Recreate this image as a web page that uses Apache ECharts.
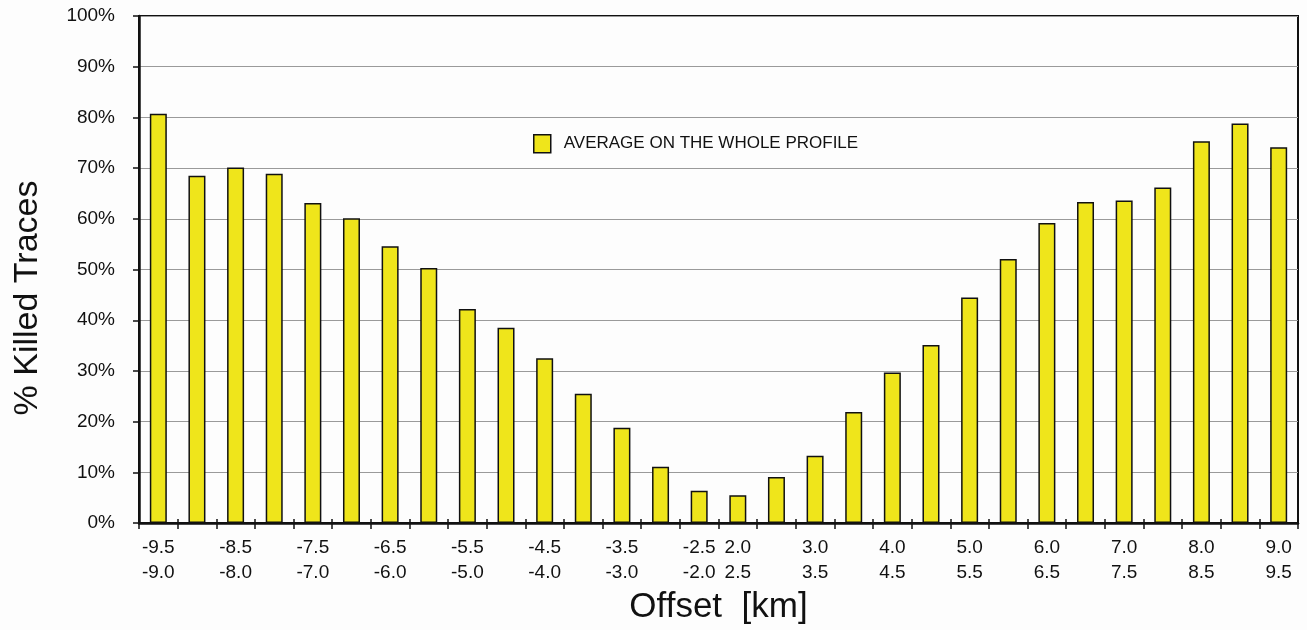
<!DOCTYPE html>
<html>
<head>
<meta charset="utf-8">
<script src="https://cdn.jsdelivr.net/npm/echarts@6/dist/echarts.min.js"></script>
<style>
html,body{margin:0;padding:0;background:#fdfdfd;}
#c{width:1307px;height:630px;}
</style>
</head>
<body>
<div id="c"></div>
<script>
const categories = [
  "-9.5\n-9.0", "-9.0\n-8.5", "-8.5\n-8.0", "-8.0\n-7.5", "-7.5\n-7.0",
  "-7.0\n-6.5", "-6.5\n-6.0", "-6.0\n-5.5", "-5.5\n-5.0", "-5.0\n-4.5",
  "-4.5\n-4.0", "-4.0\n-3.5", "-3.5\n-3.0", "-3.0\n-2.5", "-2.5\n-2.0",
  "2.0\n2.5", "2.5\n3.0", "3.0\n3.5", "3.5\n4.0", "4.0\n4.5",
  "4.5\n5.0", "5.0\n5.5", "5.5\n6.0", "6.0\n6.5", "6.5\n7.0",
  "7.0\n7.5", "7.5\n8.0", "8.0\n8.5", "8.5\n9.0", "9.0\n9.5"
];
const killedPct = [
  80.7, 68.5, 70.1, 68.9, 63.1, 60.1, 54.6, 50.3, 42.2, 38.5,
  32.5, 25.5, 18.8, 11.1, 6.4, 5.5, 9.1, 13.3, 21.9, 29.7,
  35.1, 44.5, 52.1, 59.2, 63.3, 63.6, 66.2, 75.3, 78.8, 74.1
];
const seriesName = "AVERAGE ON THE WHOLE PROFILE";
const yTitle = "% Killed Traces";
const xTitle = "Offset  [km]";

const FONT = "'Liberation Sans', Arial, Helvetica, sans-serif";
const TXT = '#111';
const chart = echarts.init(document.getElementById('c'), null, {renderer: 'canvas'});
const showLabel = function (idx) { return idx <= 14 ? idx % 2 === 0 : idx % 2 === 1; };

chart.setOption({
  backgroundColor: '#fdfdfd',
  animation: false,
  textStyle: {fontFamily: FONT, color: TXT},
  grid: {
    left: 139, right: 9, top: 16, bottom: 105,
    show: true, borderColor: '#111', borderWidth: 2, backgroundColor: 'transparent'
  },
  legend: {
    left: 533, top: 134,
    padding: 0,
    itemWidth: 17, itemHeight: 18,
    icon: 'rect',
    itemStyle: {color: '#efe51b', borderColor: '#111', borderWidth: 1.5},
    textStyle: {fontFamily: FONT, fontSize: 17, color: TXT, padding: [0, 0, 0, 8]},
    data: [seriesName]
  },
  graphic: [{
    type: 'text',
    x: 28, y: 298,
    rotation: Math.PI / 2,
    style: {
      text: yTitle, fontFamily: FONT, fontSize: 34, fill: TXT,
      textAlign: 'center', textVerticalAlign: 'middle'
    }
  }],
  xAxis: [{
    type: 'category',
    data: categories,
    boundaryGap: true,
    name: xTitle,
    nameLocation: 'middle',
    nameGap: 64,
    nameTextStyle: {fontFamily: FONT, fontSize: 35, color: TXT},
    axisLine: {lineStyle: {color: '#111', width: 2.5}},
    axisTick: {show: true, interval: 0, length: 6, inside: false, lineStyle: {color: '#111', width: 1.5}},
    axisLabel: {
      interval: function (idx) { return showLabel(idx); },
      fontFamily: FONT, fontSize: 19, lineHeight: 25, color: TXT, margin: 12
    },
    splitLine: {show: false}
  }, {
    type: 'category',
    data: categories,
    position: 'bottom',
    boundaryGap: true,
    axisLine: {show: false},
    axisTick: {show: true, interval: 0, length: 4, inside: true, lineStyle: {color: '#111', width: 1.5}},
    axisLabel: {show: false},
    splitLine: {show: false}
  }],
  yAxis: {
    type: 'value',
    min: 0, max: 100, interval: 10,
    axisLine: {show: true, lineStyle: {color: '#111', width: 2.5}},
    axisTick: {show: true, length: 6, lineStyle: {color: '#111', width: 1.5}},
    axisLabel: {formatter: '{value}%', fontFamily: FONT, fontSize: 19, color: TXT, margin: 24},
    splitLine: {show: true, lineStyle: {color: '#9a9a9a', width: 1.2}}
  },
  series: [{
    name: seriesName,
    type: 'bar',
    data: killedPct,
    barWidth: 17,
    itemStyle: {color: '#efe51b', borderColor: '#111', borderWidth: 1.5}
  }]
});
</script>
</body>
</html>
